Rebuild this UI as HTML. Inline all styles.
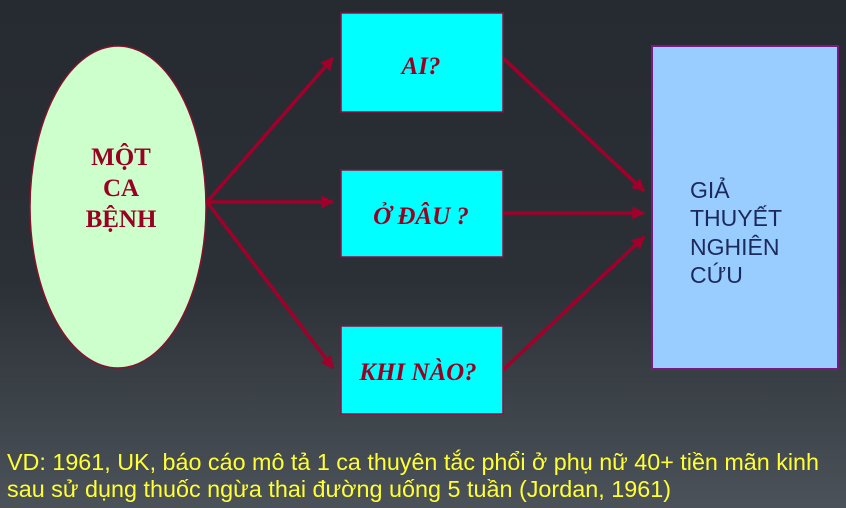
<!DOCTYPE html>
<html><head><meta charset="utf-8"><style>
html,body{margin:0;padding:0;}
body{width:846px;height:508px;overflow:hidden;background:linear-gradient(#262b31 0%,#2b3036 55%,#4b5259 100%);}
svg{display:block}
</style></head><body>
<svg width="846" height="508" xmlns="http://www.w3.org/2000/svg">
<defs>
<marker id="b" viewBox="0 0 10 10" markerWidth="16" markerHeight="13" refX="9" refY="5" orient="auto" markerUnits="userSpaceOnUse">
<path d="M0,0 L10,5 L0,10 z" fill="#a0002a"/>
</marker>
</defs>
<ellipse cx="118" cy="207" rx="88" ry="161" fill="#ccffcc" stroke="#8a1030" stroke-width="1.5"/>
<g font-family="Liberation Serif, serif" font-weight="bold" font-size="25" fill="#990022" text-anchor="middle">
<text x="121" y="165">MỘT</text>
<text x="121" y="196">CA</text>
<text x="121" y="227">BỆNH</text>
</g>
<g stroke="#a0002a" stroke-width="3.5" fill="none" marker-end="url(#b)">
<line x1="207" y1="202" x2="333" y2="58"/>
<line x1="207" y1="202" x2="333" y2="202"/>
<line x1="207" y1="202" x2="333" y2="368"/>
<line x1="503" y1="58" x2="644" y2="191"/>
<line x1="503" y1="213" x2="644" y2="213"/>
<line x1="503" y1="370" x2="644" y2="237"/>
</g>
<g fill="#00ffff" stroke="#8a1040" stroke-width="1.5">
<rect x="341" y="13" width="162" height="99"/>
<rect x="341" y="170" width="162" height="87"/>
<rect x="341" y="326" width="162" height="88"/>
</g>
<g font-family="Liberation Serif, serif" font-weight="bold" font-style="italic" font-size="25" fill="#990022" text-anchor="middle">
<text x="421" y="74">AI?</text>
<text x="421" y="224">Ở ĐÂU ?</text>
<text x="418" y="380">KHI NÀO?</text>
</g>
<rect x="652" y="46" width="186" height="323" fill="#99ccff" stroke="#7a1a80" stroke-width="2"/>
<g font-family="Liberation Sans, sans-serif" font-size="23" fill="#1a2a5a">
<text x="690" y="198">GIẢ</text>
<text x="690" y="226">THUYẾT</text>
<text x="690" y="255">NGHIÊN</text>
<text x="690" y="283">CỨU</text>
</g>
<g font-family="Liberation Sans, sans-serif" font-size="23" fill="#ffff33">
<text x="7" y="470" textLength="812" lengthAdjust="spacingAndGlyphs">VD: 1961, UK, báo cáo mô tả 1 ca thuyên tắc phổi ở phụ nữ 40+ tiền mãn kinh</text>
<text x="7" y="497" textLength="664" lengthAdjust="spacingAndGlyphs">sau sử dụng thuốc ngừa thai đường uống 5 tuần (Jordan, 1961)</text>
</g>
</svg>
</body></html>
